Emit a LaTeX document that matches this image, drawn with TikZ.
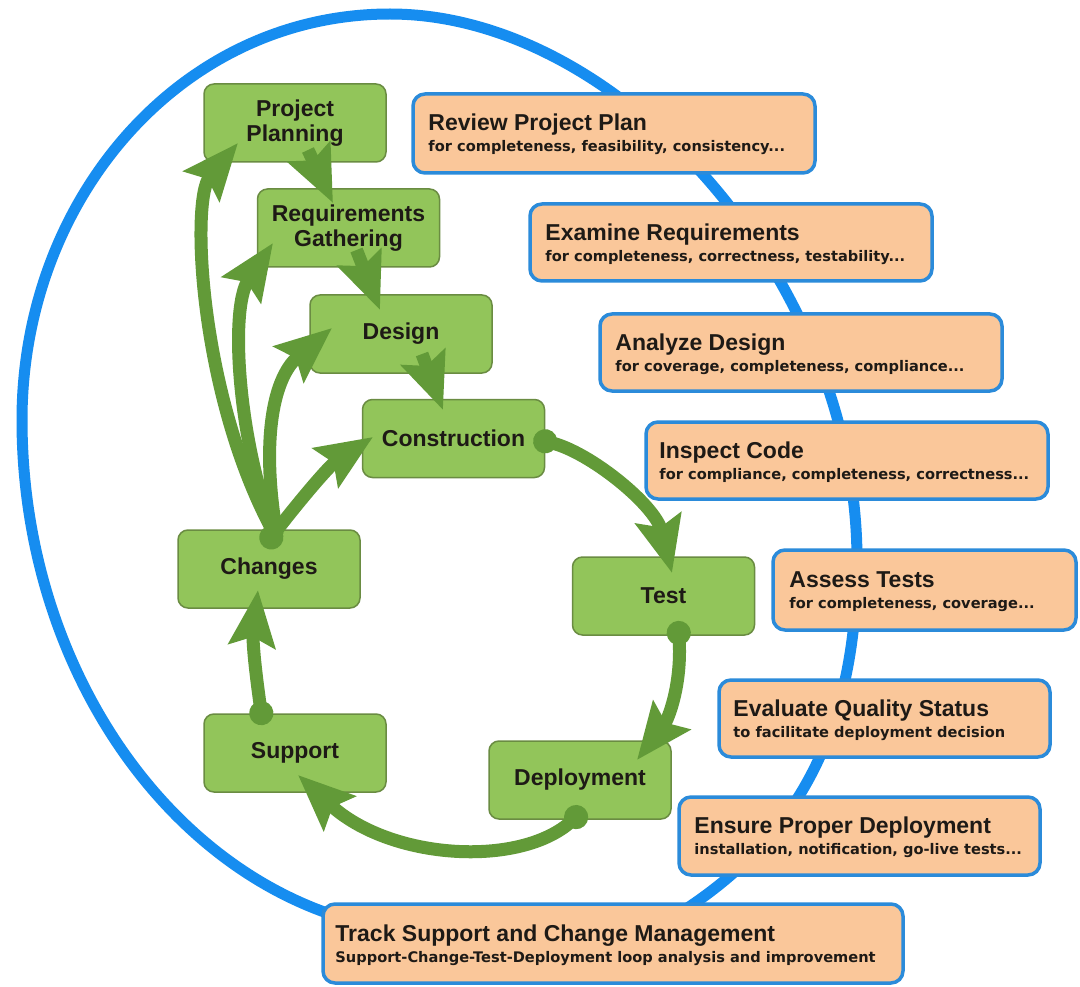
\documentclass[tikz,border=0pt]{standalone}
\usepackage{fontspec}
\usetikzlibrary{arrows.meta,calc}
\newfontfamily\lsans{Liberation Sans}
\newfontfamily\dvs{DejaVu Sans}
\definecolor{gfill}{HTML}{92C55A}
\definecolor{gborder}{HTML}{6A8C42}
\definecolor{agreen}{HTML}{629A38}
\definecolor{ofill}{HTML}{FAC79A}
\definecolor{oborder}{HTML}{2B8BDA}
\definecolor{bluearc}{HTML}{168DF0}
\definecolor{ink}{HTML}{1E1A16}
\begin{document}
\begin{tikzpicture}[x=1pt,y=-1pt,
  headtip/.tip={Stealth[length=56pt,width=46pt,inset=9pt]},
  gbox/.style={draw=gborder, line width=1.5pt, fill=gfill, rounded corners=10pt,
    minimum width=182pt, minimum height=78pt, inner sep=0pt, align=center,
    text=ink, font=\lsans\bfseries\fontsize{23}{25}\selectfont},
  obox/.style={draw=oborder, line width=3.5pt, fill=ofill, rounded corners=12pt,
    inner sep=0pt},
  otitle/.style={anchor=base west, inner sep=0pt, text=ink,
    font=\lsans\bfseries\fontsize{23}{26}\selectfont},
  osub/.style={anchor=base west, inner sep=0pt, text=ink,
    font=\dvs\bfseries\fontsize{14.6}{17}\selectfont},
  garrow/.style={draw=agreen, line width=13pt, -headtip},
  gdot/.style={garrow, {Circle[length=24pt]}-headtip}
]
\useasboundingbox[fill=white] (0,0) rectangle (1080,987);

% big blue loop
\draw[bluearc, line width=11pt]
  (327,913) .. controls (150,850) and (22,650) .. (22,420)
            .. controls (22,200) and (180,14) .. (390,14)
            .. controls (620,14) and (857,280) .. (857,560)
            .. controls (857,740) and (790,850) .. (660,925)
            .. controls (590,965) and (410,943) .. (327,913) -- cycle;

% orange review boxes
\node[obox, minimum width=402pt, minimum height=79pt] (o1) at (614,133.5) {};
\node[obox, minimum width=402pt, minimum height=77pt] (o2) at (731,242.5) {};
\node[obox, minimum width=402pt, minimum height=77pt] (o3) at (801,352.5) {};
\node[obox, minimum width=402pt, minimum height=77pt] (o4) at (847,460.5) {};
\node[obox, minimum width=303pt, minimum height=80pt] (o5) at (924.5,590) {};
\node[obox, minimum width=331pt, minimum height=77pt] (o6) at (884.5,718.5) {};
\node[obox, minimum width=361pt, minimum height=78pt] (o7) at (859.5,836) {};
\node[obox, minimum width=580pt, minimum height=79pt] (o8) at (613,943.5) {};

\node[otitle] (o1t) at ($(o1.north west)+(17,38)$) {Review Project Plan};
\node[osub]   (o1s) at ($(o1.north west)+(17,59)$) {for completeness, feasibility, consistency...};
\node[otitle] (o2t) at ($(o2.north west)+(17,38)$) {Examine Requirements};
\node[osub]   (o2s) at ($(o2.north west)+(17,59)$) {for completeness, correctness, testability...};
\node[otitle] (o3t) at ($(o3.north west)+(17,38)$) {Analyze Design};
\node[osub]   (o3s) at ($(o3.north west)+(17,59)$) {for coverage, completeness, compliance...};
\node[otitle] (o4t) at ($(o4.north west)+(15,38)$) {Inspect Code};
\node[osub]   (o4s) at ($(o4.north west)+(15,59)$) {for compliance, completeness, correctness...};
\node[otitle] (o5t) at ($(o5.north west)+(18,39)$) {Assess Tests};
\node[osub]   (o5s) at ($(o5.north west)+(18,60)$) {for completeness, coverage...};
\node[otitle] (o6t) at ($(o6.north west)+(16,38)$) {Evaluate Quality Status};
\node[osub]   (o6s) at ($(o6.north west)+(16,59)$) {to facilitate deployment decision};
\node[otitle] (o7t) at ($(o7.north west)+(17,38)$) {Ensure Proper Deployment};
\node[osub]   (o7s) at ($(o7.north west)+(17,59)$) {installation, notification, go-live tests...};
\node[otitle] (o8t) at ($(o8.north west)+(14,39)$) {Track Support and Change Management};
\node[osub]   (o8s) at ($(o8.north west)+(14,60)$) {Support-Change-Test-Deployment loop analysis and improvement};

% green phase boxes
\node[gbox] (pp) at (295,123)   {Project\\Planning};
\node[gbox] (rg) at (348.5,228) {Requirements\\Gathering};
\node[gbox] (de) at (401,334)   {Design};
\node[gbox] (co) at (453.5,438.5) {Construction};
\node[gbox] (ch) at (269,569)   {Changes};
\node[gbox] (te) at (663.5,596) {Test};
\node[gbox] (su) at (295,753)   {Support};
\node[gbox] (dp) at (580,780)   {Deployment};

% waterfall arrows
\draw[garrow] ($(pp)+(13,27)$) -- ($(rg)+(-15.5,-25)$);
\draw[garrow] ($(rg)+(8,22)$) -- ($(de)+(-21,-24)$);
\draw[garrow] ($(de)+(21,20)$) -- ($(co)+(-10.5,-28.5)$);

% main cycle
\draw[gdot] ($(co)+(80,0)$) .. controls (590,452) and (655,505) .. ($(te)+(8.5,-23)$);
\draw[gdot] ($(te)+(14.5,25)$) .. controls (682,685) and (668,720) .. ($(dp)+(57,-20)$);
\draw[gdot] ($(dp)+(5,29)$) .. controls (520,868) and (390,860) .. ($(su)+(3,22)$);
\draw[gdot] ($(su)+(-32,-28)$) .. controls (258,690) and (252,645) .. ($(ch)+(-11,21)$);

% changes feed back
\draw[garrow] ($(ch)+(6,-34)$) .. controls (200,400) and (190,200) .. ($(pp)+(-57,20)$);
\draw[garrow] ($(ch)+(6,-34)$) .. controls (240,450) and (228,310) .. ($(rg)+(-75.5,15)$);
\draw[garrow] ($(ch)+(8,-34)$) .. controls (262,450) and (270,380) .. ($(de)+(-69,-6)$);
\draw[gdot] ($(ch)+(-5,-22)$) .. controls (300,500) and (330,465) .. ($(co)+(-80.5,-1.5)$);
\end{tikzpicture}
\end{document}
